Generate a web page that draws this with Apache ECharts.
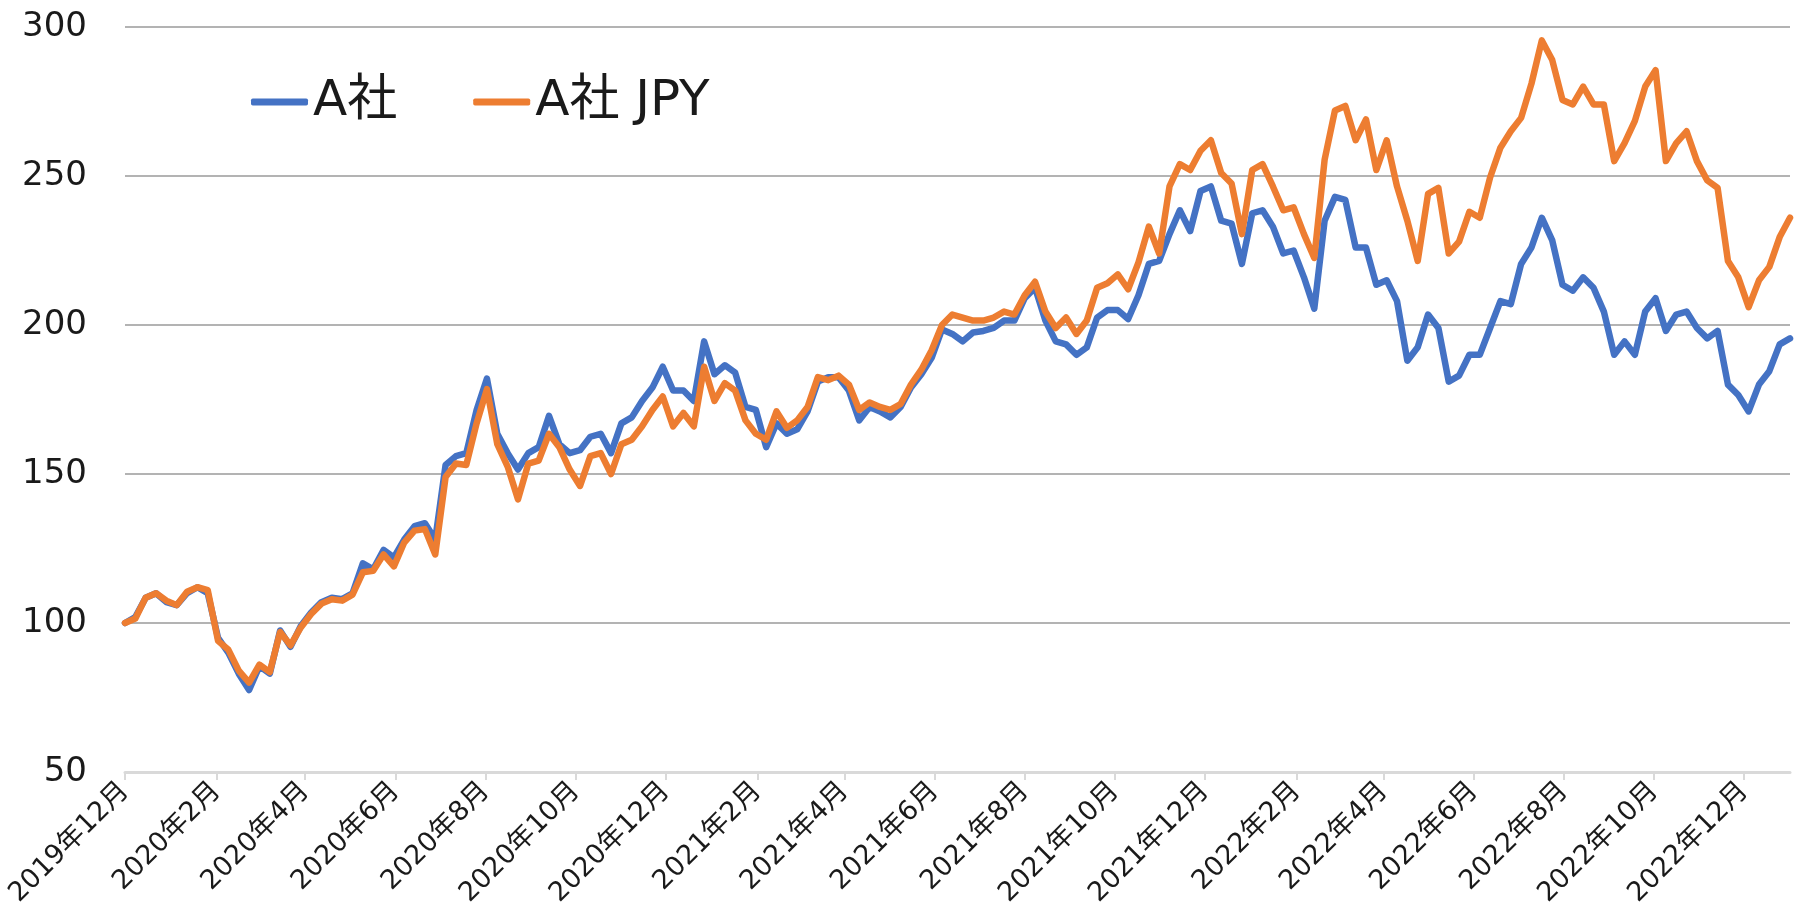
<!DOCTYPE html>
<html>
<head>
<meta charset="utf-8">
<script src="https://cdn.jsdelivr.net/npm/echarts@6/dist/echarts.min.js"></script>
<style>
  html, body { margin: 0; padding: 0; background: #fff; }
  #main { width: 1794px; height: 910px; }
</style>
</head>
<body>
<div id="main"></div>
<script>
// weekly samples
var dates = [
  '2019-12-01','2019-12-08','2019-12-15','2019-12-22','2019-12-29',
  '2020-01-05','2020-01-12','2020-01-19','2020-01-26','2020-02-02','2020-02-09','2020-02-16','2020-02-23',
  '2020-03-01','2020-03-08','2020-03-15','2020-03-22','2020-03-29','2020-04-05','2020-04-12','2020-04-19','2020-04-26',
  '2020-05-03','2020-05-10','2020-05-17','2020-05-24','2020-05-31','2020-06-07','2020-06-14','2020-06-21','2020-06-28',
  '2020-07-05','2020-07-12','2020-07-19','2020-07-26','2020-08-02','2020-08-09','2020-08-16','2020-08-23','2020-08-30',
  '2020-09-06','2020-09-13','2020-09-20','2020-09-27','2020-10-04','2020-10-11','2020-10-18','2020-10-25',
  '2020-11-01','2020-11-08','2020-11-15','2020-11-22','2020-11-29','2020-12-06','2020-12-13','2020-12-20','2020-12-27',
  '2021-01-03','2021-01-10','2021-01-17','2021-01-24','2021-01-31','2021-02-07','2021-02-14','2021-02-21','2021-02-28',
  '2021-03-07','2021-03-14','2021-03-21','2021-03-28','2021-04-04','2021-04-11','2021-04-18','2021-04-25',
  '2021-05-02','2021-05-09','2021-05-16','2021-05-23','2021-05-30','2021-06-06','2021-06-13','2021-06-20','2021-06-27',
  '2021-07-04','2021-07-11','2021-07-18','2021-07-25','2021-08-01','2021-08-08','2021-08-15','2021-08-22','2021-08-29',
  '2021-09-05','2021-09-12','2021-09-19','2021-09-26','2021-10-03','2021-10-10','2021-10-17','2021-10-24','2021-10-31',
  '2021-11-07','2021-11-14','2021-11-21','2021-11-28','2021-12-05','2021-12-12','2021-12-19','2021-12-26',
  '2022-01-02','2022-01-09','2022-01-16','2022-01-23','2022-01-30','2022-02-06','2022-02-13','2022-02-20','2022-02-27',
  '2022-03-06','2022-03-13','2022-03-20','2022-03-27','2022-04-03','2022-04-10','2022-04-17','2022-04-24',
  '2022-05-01','2022-05-08','2022-05-15','2022-05-22','2022-05-29','2022-06-05','2022-06-12','2022-06-19','2022-06-26',
  '2022-07-03','2022-07-10','2022-07-17','2022-07-24','2022-07-31','2022-08-07','2022-08-14','2022-08-21','2022-08-28',
  '2022-09-04','2022-09-11','2022-09-18','2022-09-25','2022-10-02','2022-10-09','2022-10-16','2022-10-23','2022-10-30',
  '2022-11-06','2022-11-13','2022-11-20','2022-11-27','2022-12-04','2022-12-11','2022-12-18','2022-12-25','2023-01-01'
];

var aSha = [
  100, 102, 108.5, 110, 107,
  106, 110, 112, 110, 95, 90, 83, 77.5,
  85.5, 83, 97.5, 92, 99, 103.5, 107, 108.5, 108,
  110, 120, 118, 124.5, 122, 128, 132.5, 133.5, 128,
  153, 156, 157, 171.5, 182, 163.5, 157, 151.5, 157,
  159, 169.5, 160, 157, 158, 162.5, 163.5, 157,
  167, 169, 174.5, 179, 186, 178, 178, 174.5, 194.5,
  183.5, 186.5, 184, 172.5, 171.5, 159, 167, 163.5, 165,
  171, 181, 182.5, 182.5, 178, 168, 172.5, 171,
  169, 172.5, 179, 183.5, 189, 198.5, 197, 194.5, 197.5,
  198, 199, 201.5, 201.5, 209, 212.5, 201.5, 194.5, 193.5,
  190, 192.5, 202.5, 205, 205, 202, 210, 220.5, 221.5,
  230.5, 238.5, 231.5, 245, 246.5, 235, 234, 220.5,
  237.5, 238.5, 233, 224, 225, 216, 205.5, 235, 243,
  242, 226, 226, 213.5, 215, 208, 188, 192.5,
  203.5, 199, 181, 183, 190, 190, 199, 208, 207,
  220.5, 226, 236, 228.5, 213.5, 211.5, 216, 212.5, 204.5,
  190, 194.5, 190, 204.5, 209, 198, 203.5, 204.5, 199,
  195.5, 198, 180, 176.5, 171, 180, 184.5, 193.5, 195.5
];

var aShaJpy = [
  100, 101.5, 108.5, 110, 107.5,
  106, 110.5, 112, 111, 94, 91, 84, 80,
  86, 83.5, 97, 92.5, 98.5, 103, 106.5, 108, 107.5,
  109.5, 117, 117.5, 123, 119, 127, 131, 131.5, 123,
  149, 153.5, 153, 167, 178.5, 160, 152.5, 141.5, 153.5,
  154.5, 163.5, 159, 151.5, 146, 156, 157, 150,
  160, 161.5, 166, 171.5, 176, 166, 170.5, 166, 186,
  174.5, 180.5, 178, 168, 163.5, 161.5, 171, 165.5, 168,
  172.5, 182.5, 181.5, 183, 180, 171.5, 174, 172.5,
  171.5, 173.5, 180, 185, 191.5, 200, 203.5, 202.5, 201.5,
  201.5, 202.5, 204.5, 203.5, 210, 214.5, 204.5, 199, 202.5,
  197, 201.5, 212.5, 214, 217, 212, 221, 233, 224,
  246.5, 254, 252, 258.5, 262, 251, 247.5, 230.5,
  252, 254, 246.5, 238.5, 239.5, 230.5, 222.5, 255.5, 272,
  273.5, 262, 269, 252, 262, 246.5, 235, 221.5,
  244, 246, 224, 228, 238, 236, 249.5, 259.5, 265,
  269.5, 281, 295.5, 289, 275.5, 274, 280, 274, 274,
  255, 261, 268.5, 280, 285.5, 255, 261, 265, 255,
  248.5, 246, 221.5, 216, 206, 215, 219.5, 229.5, 236
];

var tickMonths = [
  '2019-12-01','2020-02-01','2020-04-01','2020-06-01','2020-08-01','2020-10-01','2020-12-01',
  '2021-02-01','2021-04-01','2021-06-01','2021-08-01','2021-10-01','2021-12-01',
  '2022-02-01','2022-04-01','2022-06-01','2022-08-01','2022-10-01','2022-12-01'
];

var seriesNames = ['A社', 'A社 JPY'];

var fontLatin = "'DejaVu Sans', 'Noto Sans CJK JP', sans-serif";

function toTime(s) {
  return echarts.number.parseDate(s).getTime();
}

var tickTimes = tickMonths.map(toTime);

function pairs(values) {
  return dates.map(function (d, i) {
    return [toTime(d), values[i]];
  });
}

var myChart = echarts.init(document.getElementById('main'));

var option = {
  animation: false,
  backgroundColor: '#fff',
  grid: {
    left: 125,
    right: 4,
    top: 27,
    bottom: 138,
    containLabel: false
  },
  legend: {
    data: seriesNames,
    left: 246,
    top: 72,
    icon: 'roundRect',
    itemWidth: 57,
    itemHeight: 7,
    itemGap: 76,
    textStyle: {
      fontSize: 50,
      color: '#1a1a1a',
      fontFamily: fontLatin
    }
  },
  xAxis: {
    type: 'value',
    min: toTime('2019-12-01'),
    max: toTime('2023-01-01'),
    axisLine: {
      show: true,
      onZero: false,
      lineStyle: { color: '#d9d9d9', width: 3 }
    },
    axisTick: {
      show: true,
      length: 8,
      customValues: tickTimes,
      lineStyle: { color: '#d9d9d9', width: 2 }
    },
    axisLabel: {
      customValues: tickTimes,
      rotate: 45,
      margin: 15,
      fontSize: 27,
      color: '#1a1a1a',
      fontFamily: fontLatin,
      formatter: function (value) {
        var d = new Date(value);
        return d.getFullYear() + '年' + (d.getMonth() + 1) + '月';
      }
    },
    splitLine: { show: false }
  },
  yAxis: {
    type: 'value',
    min: 50,
    max: 300,
    interval: 50,
    axisLine: { show: false },
    axisTick: { show: false },
    axisLabel: {
      fontSize: 34,
      margin: 38,
      color: '#1a1a1a',
      fontFamily: fontLatin
    },
    splitLine: {
      show: true,
      showMinLine: false,
      lineStyle: { color: '#b3b3b3', width: 2 }
    }
  },
  series: [
    {
      name: seriesNames[0],
      type: 'line',
      data: pairs(aSha),
      showSymbol: false,
      symbol: 'none',
      color: '#4472C4',
      lineStyle: { width: 6.5, color: '#4472C4', join: 'round', cap: 'round' }
    },
    {
      name: seriesNames[1],
      type: 'line',
      data: pairs(aShaJpy),
      showSymbol: false,
      symbol: 'none',
      color: '#ED7D31',
      lineStyle: { width: 6.5, color: '#ED7D31', join: 'round', cap: 'round' }
    }
  ]
};

myChart.setOption(option);
</script>
</body>
</html>
